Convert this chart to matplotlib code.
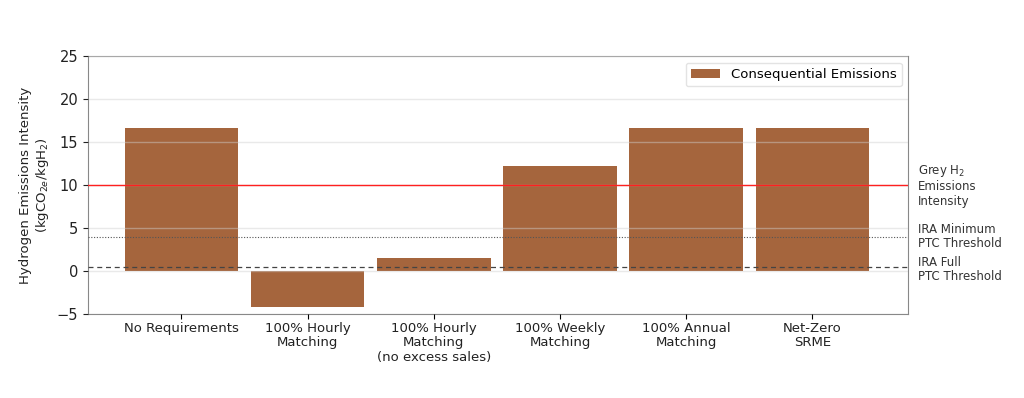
import matplotlib
matplotlib.use("Agg")
import matplotlib.pyplot as plt
import matplotlib.transforms as mtransforms
import numpy as np

categories = ["No Requirements", "100% Hourly\nMatching", "100% Hourly\nMatching\n(no excess sales)",
              "100% Weekly\nMatching", "100% Annual\nMatching", "Net-Zero\nSRME"]
emissions = [16.6, -4.2, 1.5, 12.2, 16.6, 16.6]

grey_h2 = 10.0
ira_min = 4.0
ira_full = 0.45

bar_color = "#a5653d"

fig = plt.figure(figsize=(10.24, 3.98), dpi=100)
ax = fig.add_axes([0.086, 0.211, 0.801, 0.648])

x = np.arange(len(categories))
ax.bar(x, emissions, width=0.9, color=bar_color, label="Consequential Emissions", zorder=2)
# grid sits on top of the bars, faint
ax.set_axisbelow(False)
ax.yaxis.grid(True, color="#d0d0d0", alpha=0.45, linewidth=1.0)

ax.axhline(grey_h2, color="#ff2020", linewidth=1.0, zorder=3)
ax.axhline(ira_min, color="#555555", linewidth=0.8, linestyle=(0, (1, 1.5)), zorder=3)
ax.axhline(ira_full, color="#444444", linewidth=0.9, linestyle=(0, (4, 3)), zorder=3)

trans = mtransforms.blended_transform_factory(ax.transAxes, ax.transData)
ax.text(1.012, grey_h2, "Grey H$_2$\nEmissions\nIntensity", transform=trans, va="center",
        ha="left", fontsize=8.5, color="#333333", linespacing=1.15)
ax.text(1.012, ira_min, "IRA Minimum\nPTC Threshold", transform=trans, va="center",
        ha="left", fontsize=8.5, color="#333333", linespacing=1.15)
ax.text(1.012, ira_full - 0.3, "IRA Full\nPTC Threshold", transform=trans, va="center",
        ha="left", fontsize=8.5, color="#333333", linespacing=1.15)

ax.set_xlim(-0.74, 5.76)
ax.set_ylim(-5, 25)
ax.set_yticks(range(-5, 26, 5))
ax.set_xticks(x)
ax.set_xticklabels(categories, fontsize=9.5, color="#222222", linespacing=1.15)
ax.tick_params(axis="x", pad=2)
ax.tick_params(axis="y", labelsize=10.5, colors="#222222")
ax.set_ylabel("Hydrogen Emissions Intensity\n(kgCO$_{2e}$/kgH$_2$)", fontsize=9.5, color="#222222")

for s in ax.spines.values():
    s.set_color("#888888")

ax.legend(loc="upper right", fontsize=9.5, frameon=True, edgecolor="#dddddd",
          handlelength=2.2, handleheight=0.6)

fig.savefig("out.png", dpi=100)
